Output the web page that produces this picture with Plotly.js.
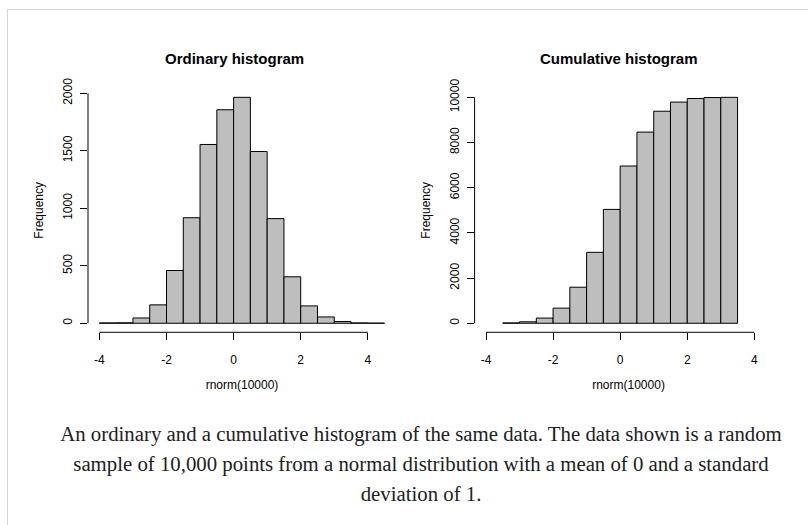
<!DOCTYPE html>
<html>
<head>
<meta charset="utf-8">
<script src="https://cdn.plot.ly/plotly-3.0.1.min.js"></script>
<style>
  html, body { margin: 0; padding: 0; background: #ffffff; }
  #wrap { position: relative; width: 808px; height: 525px; overflow: hidden; }
  #chart { position: absolute; left: 0; top: 0; width: 808px; height: 525px; }
  #frame { position: absolute; left: 7px; top: 9px; width: 900px; height: 700px;
           border-top: 1px solid #d4d4d4; border-left: 1px solid #d4d4d4; pointer-events: none; }
  #caption { position: absolute; left: 7px; width: 828px; top: 419px;
             font-family: "Liberation Serif", "Times New Roman", serif; font-size: 20.8px;
             line-height: 30px; text-align: center; color: #202122; white-space: nowrap; }
</style>
</head>
<body>
<div id="wrap">
  <div id="chart"></div>
  <div id="frame"></div>
  <div id="caption">An ordinary and a cumulative histogram of the same data. The data shown is a random<br>sample of 10,000 points from a normal distribution with a mean of 0 and a standard<br>deviation of 1.</div>
</div>
<script>
// ---- data ----
const ordinaryBreaks = [-4, -3.5, -3, -2.5, -2, -1.5, -1, -0.5, 0, 0.5, 1, 1.5, 2, 2.5, 3, 3.5, 4, 4.5];
const ordinaryCounts = [3, 4, 46, 160, 459, 918, 1555, 1857, 1965, 1494, 910, 404, 151, 55, 15, 3, 1];

const cumulativeBreaks = [-3.5, -3, -2.5, -2, -1.5, -1, -0.5, 0, 0.5, 1, 1.5, 2, 2.5, 3, 3.5];
const cumulativeCounts = [15, 65, 230, 670, 1595, 3140, 5040, 6960, 8462, 9385, 9790, 9950, 9990, 10000];

const xTickVals = [-4, -2, 0, 2, 4];
const xTickText = ["-4", "-2", "0", "2", "4"];
const yTickValsOrd = [0, 500, 1000, 1500, 2000];
const yTickTextOrd = ["0", "500", "1000", "1500", "2000"];
const yTickValsCum = [0, 2000, 4000, 6000, 8000, 10000];
const yTickTextCum = ["0", "2000", "4000", "6000", "8000", "10000"];

const titleOrd = "Ordinary histogram";
const titleCum = "Cumulative histogram";
const xLabel = "rnorm(10000)";
const yLabel = "Frequency";

// ---- build traces ----
function mids(b) { const m = []; for (let i = 0; i < b.length - 1; i++) m.push((b[i] + b[i + 1]) / 2); return m; }
function widths(b) { const w = []; for (let i = 0; i < b.length - 1; i++) w.push(b[i + 1] - b[i]); return w; }

const FONT = "Liberation Sans, Arial, Helvetica, sans-serif";
const barStyle = { color: "#bebebe", line: { color: "#000000", width: 1 } };

const traces = [
  { type: "bar", x: mids(ordinaryBreaks), y: ordinaryCounts, width: widths(ordinaryBreaks),
    marker: barStyle, xaxis: "x", yaxis: "y", hoverinfo: "x+y", showlegend: false },
  { type: "bar", x: mids(cumulativeBreaks), y: cumulativeCounts, width: widths(cumulativeBreaks),
    marker: barStyle, xaxis: "x2", yaxis: "y2", hoverinfo: "x+y", showlegend: false }
];

const W = 808, H = 525;
const yDom = [1 - 332.3 / H, 1 - 88.3 / H];

function xAxis(domain, anchor) {
  return {
    domain: domain, range: [-4.34, 4.84], anchor: anchor,
    tickvals: xTickVals, ticktext: xTickText,
    ticks: "outside", ticklen: 7, tickwidth: 1, tickcolor: "#000",
    showline: false, showgrid: false, zeroline: false, automargin: false,
    tickfont: { family: FONT, size: 12, color: "#000" },
    ticklabelstandoff: 9,
    title: { text: xLabel, font: { family: FONT, size: 12, color: "#000" }, standoff: 14 },
    fixedrange: true
  };
}
function yAxis(range, vals, text, anchor) {
  return {
    domain: yDom, range: range, anchor: anchor,
    tickvals: vals, ticktext: text, tickangle: -90,
    ticks: "outside", ticklen: 7, tickwidth: 1, tickcolor: "#000",
    showline: false, showgrid: false, zeroline: false, automargin: false,
    tickfont: { family: FONT, size: 12, color: "#000" },
    ticklabelstandoff: 3,
    title: { text: yLabel, font: { family: FONT, size: 12, color: "#000" }, standoff: 14 },
    fixedrange: true
  };
}

const axisLine = { color: "#000", width: 1 };
const shapes = [
  // R-style axis lines spanning only the tick range
  { type: "line", xref: "x", yref: "y domain", x0: xTickVals[0], x1: xTickVals[xTickVals.length - 1], y0: 0, y1: 0, line: axisLine },
  { type: "line", xref: "x domain", yref: "y", x0: 0, x1: 0, y0: yTickValsOrd[0], y1: yTickValsOrd[yTickValsOrd.length - 1], line: axisLine },
  { type: "line", xref: "x2", yref: "y2 domain", x0: xTickVals[0], x1: xTickVals[xTickVals.length - 1], y0: 0, y1: 0, line: axisLine },
  { type: "line", xref: "x2 domain", yref: "y2", x0: 0, x1: 0, y0: yTickValsCum[0], y1: yTickValsCum[yTickValsCum.length - 1], line: axisLine }
];

const layout = {
  width: W, height: H,
  margin: { l: 0, r: 0, t: 0, b: 0, pad: 0 },
  paper_bgcolor: "rgba(0,0,0,0)", plot_bgcolor: "rgba(0,0,0,0)",
  bargap: 0, showlegend: false,
  font: { family: FONT, color: "#000" },
  xaxis: xAxis([88 / W, 396 / W], "y"),
  yaxis: yAxis([-78.6, 2043.6], yTickValsOrd, yTickTextOrd, "x"),
  xaxis2: xAxis([474.6 / W, 782.5 / W], "y2"),
  yaxis2: yAxis([-400, 10400], yTickValsCum, yTickTextCum, "x2"),
  shapes: shapes,
  annotations: [
    { text: "<b>" + titleOrd + "</b>", xref: "paper", yref: "paper", x: 235 / W, y: 1 - 58 / H,
      xanchor: "center", yanchor: "middle", showarrow: false, font: { family: FONT, size: 15, color: "#000" } },
    { text: "<b>" + titleCum + "</b>", xref: "paper", yref: "paper", x: 619 / W, y: 1 - 58 / H,
      xanchor: "center", yanchor: "middle", showarrow: false, font: { family: FONT, size: 15, color: "#000" } }
  ]
};

Plotly.newPlot("chart", traces, layout, { staticPlot: true, displayModeBar: false });
</script>
</body>
</html>
